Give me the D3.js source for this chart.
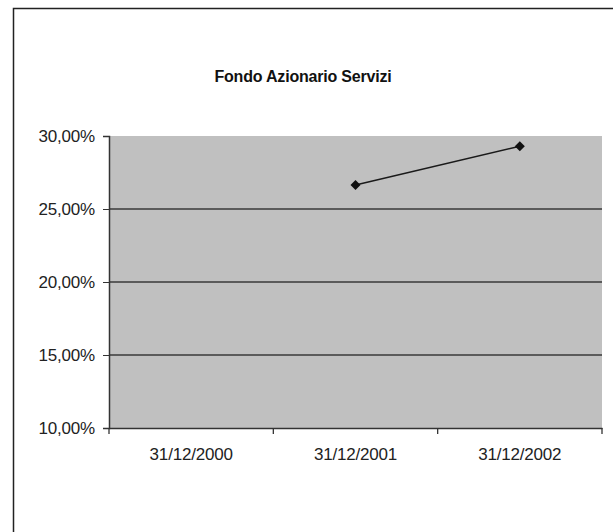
<!DOCTYPE html>
<html><head><meta charset="utf-8">
<script src="https://cdn.jsdelivr.net/npm/d3@7"></script>
<style>body{margin:0;background:#fff}svg{display:block}</style>
</head><body>
<script>
const title = "Fondo Azionario Servizi";
const categories = ["31/12/2000", "31/12/2001", "31/12/2002"];
const values = [null, 26.65, 29.3];
const yTicks = [10, 15, 20, 25, 30];

const W = 613, H = 532;
const svg = d3.select("body").append("svg").attr("width", W).attr("height", H);
const m = {left: 109, right: 602, top: 136, bottom: 428};
const font = "Liberation Sans, Arial, sans-serif";

// outer frame (top and left visible)
svg.append("path").attr("d", `M13.5,${H} V8.5 H${W}`).attr("fill", "none").attr("stroke", "#222").attr("stroke-width", 1.5);

const x = d3.scaleBand().domain(categories).range([m.left, m.right]);
const y = d3.scaleLinear().domain([10, 30]).range([m.bottom, m.top]);

svg.append("rect").attr("x", m.left).attr("y", m.top).attr("width", m.right - m.left).attr("height", m.bottom - m.top).attr("fill", "#c0c0c0");

svg.append("g").selectAll("line").data(yTicks.filter(t => t > 10 && t < 30)).join("line")
  .attr("x1", m.left).attr("x2", m.right).attr("y1", d => y(d)).attr("y2", d => y(d))
  .attr("stroke", "#3a3a3a").attr("stroke-width", 1.5);

const fmt = d => d3.format(".2f")(d).replace(".", ",") + "%";
const yAxis = svg.append("g").attr("transform", `translate(${m.left},0)`)
  .call(d3.axisLeft(y).tickValues(yTicks).tickFormat(fmt).tickSize(6).tickPadding(8));
yAxis.select(".domain").attr("stroke", "#333").attr("stroke-width", 1.5);
yAxis.selectAll(".tick line").attr("stroke", "#333");
yAxis.selectAll("text").attr("font-family", font).attr("font-size", 17).attr("fill", "#222").attr("letter-spacing", "-0.2");

const xAxis = svg.append("g").attr("transform", `translate(0,${m.bottom})`)
  .call(d3.axisBottom(x).tickSize(0).tickPadding(20));
xAxis.select(".domain").attr("stroke", "#333").attr("stroke-width", 1.5);
xAxis.selectAll("text").attr("font-family", font).attr("font-size", 17).attr("fill", "#222").attr("letter-spacing", "-0.2");
// boundary ticks
const bounds = categories.map(c => x(c)).concat([m.right]);
svg.append("g").selectAll("line").data(bounds).join("line")
  .attr("x1", d => d).attr("x2", d => d)
  .attr("y1", m.bottom).attr("y2", m.bottom + 6).attr("stroke", "#333").attr("stroke-width", 1.3);

const pts = categories.map((c, i) => ({c, v: values[i]})).filter(d => d.v != null);
const line = d3.line().x(d => x(d.c) + x.bandwidth() / 2).y(d => y(d.v));
svg.append("path").datum(pts).attr("d", line).attr("fill", "none").attr("stroke", "#1a1a1a").attr("stroke-width", 1.5);
svg.append("g").selectAll("path").data(pts).join("path")
  .attr("transform", d => `translate(${x(d.c) + x.bandwidth() / 2},${y(d.v)})`)
  .attr("d", "M0,-5L5,0L0,5L-5,0Z").attr("fill", "#111");

svg.append("text").attr("x", 303).attr("y", 82).attr("text-anchor", "middle")
  .attr("font-family", font).attr("font-weight", "bold").attr("font-size", 16)
  .attr("letter-spacing", "-0.2").attr("fill", "#111").text(title);
</script>
</body></html>
